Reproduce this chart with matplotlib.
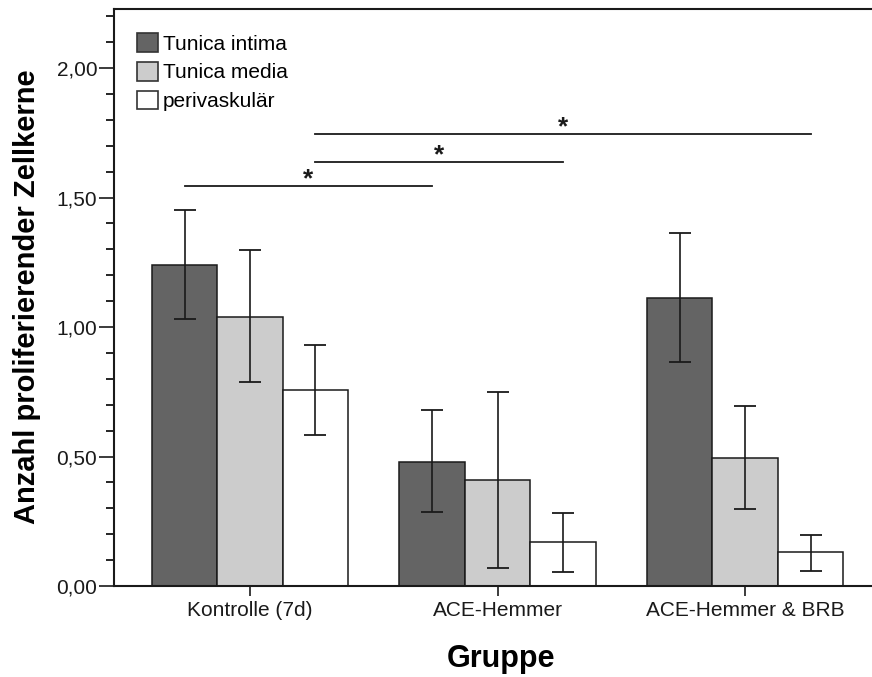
import numpy as np
import matplotlib.pyplot as plt
from matplotlib.patches import Patch
from matplotlib.ticker import MultipleLocator, FuncFormatter

plt.rcParams['font.family'] = ['Liberation Sans', 'DejaVu Sans']

# Mittelwerte und Fehlerbalken (untere/obere Grenze) je Gruppe
groups = ['Kontrolle (7d)', 'ACE-Hemmer', 'ACE-Hemmer & BRB']
series = ['Tunica intima', 'Tunica media', 'perivaskulär']
colors = ['#646464', '#cccccc', '#ffffff']

intima = [1.240, 0.478, 1.112]
intima_lo = [1.031, 0.286, 0.865]
intima_hi = [1.452, 0.680, 1.363]

media = [1.039, 0.409, 0.494]
media_lo = [0.788, 0.069, 0.297]
media_hi = [1.297, 0.749, 0.695]

periv = [0.757, 0.170, 0.131]
periv_lo = [0.583, 0.054, 0.058]
periv_hi = [0.931, 0.282, 0.197]

# Signifikanzbalken: (Gruppe, Serie) -> (Gruppe, Serie), Höhe
sig_pairs = [((0, 0), (1, 0), 1.544),
             ((0, 2), (1, 2), 1.637),
             ((0, 2), (2, 2), 1.745)]

means = [intima, media, periv]
lows = [intima_lo, media_lo, periv_lo]
highs = [intima_hi, media_hi, periv_hi]

fig = plt.figure(figsize=(8.72, 6.77), dpi=100)
ax = fig.add_axes([114 / 872, 91 / 677, 758 / 872, 577 / 677])

x = np.arange(len(groups))
w = 0.2646
offsets = [-w, 0, w]

for i in range(3):
    m = np.array(means[i])
    err = [m - np.array(lows[i]), np.array(highs[i]) - m]
    ax.bar(x + offsets[i], m, width=w, color=colors[i], edgecolor='#1a1a1a',
           linewidth=1.1, zorder=2)
    ax.errorbar(x + offsets[i], m, yerr=err, fmt='none', ecolor='#1a1a1a',
                elinewidth=1.2, capsize=8, capthick=1.3, zorder=3)

for (g1, s1), (g2, s2), h in sig_pairs:
    x1 = g1 + offsets[s1]
    x2 = g2 + offsets[s2]
    ax.plot([x1, x2], [h, h], color='#1a1a1a', lw=1.3, zorder=3)
    ax.text((x1 + x2) / 2, h - 0.002, '*', ha='center', va='baseline',
            fontsize=19, fontweight='bold', color='#1a1a1a')

ax.set_xlim(-0.5495, 2.513)
ax.set_ylim(0, 2.228)

ax.set_xticks(x)
ax.set_xticklabels(groups, fontsize=15)
ax.tick_params(axis='x', length=7, width=1.2, pad=4, colors='#1a1a1a')

ax.yaxis.set_major_locator(MultipleLocator(0.5))
ax.yaxis.set_minor_locator(MultipleLocator(0.1))
ax.yaxis.set_major_formatter(FuncFormatter(lambda v, p: f'{v:.2f}'.replace('.', ',')))
ax.tick_params(axis='y', which='major', length=11, width=1.2, pad=1,
               labelsize=15, colors='#1a1a1a')
ax.tick_params(axis='y', which='minor', length=6, width=1.2)

for side in ['left', 'top', 'bottom']:
    ax.spines[side].set_linewidth(1.5)
    ax.spines[side].set_color('#1a1a1a')
ax.spines['right'].set_visible(False)

handles = [Patch(facecolor=c, edgecolor='#333333', linewidth=1.2) for c in colors]
ax.legend(handles, series, loc='upper left', bbox_to_anchor=(0.0303, 0.958),
          frameon=False, fontsize=15, borderpad=0, borderaxespad=0,
          handlelength=1.0, handleheight=1.0, handletextpad=0.25,
          labelspacing=0.4)

fig.text(27 / 872, 1 - 297 / 677, 'Anzahl proliferierender Zellkerne',
         rotation=90, ha='center', va='center', fontsize=21, fontweight='bold')
fig.text(501 / 872, 1 - 659 / 677, 'Gruppe', ha='center', va='center',
         fontsize=22, fontweight='bold')

fig.savefig('out.png', dpi=100)
